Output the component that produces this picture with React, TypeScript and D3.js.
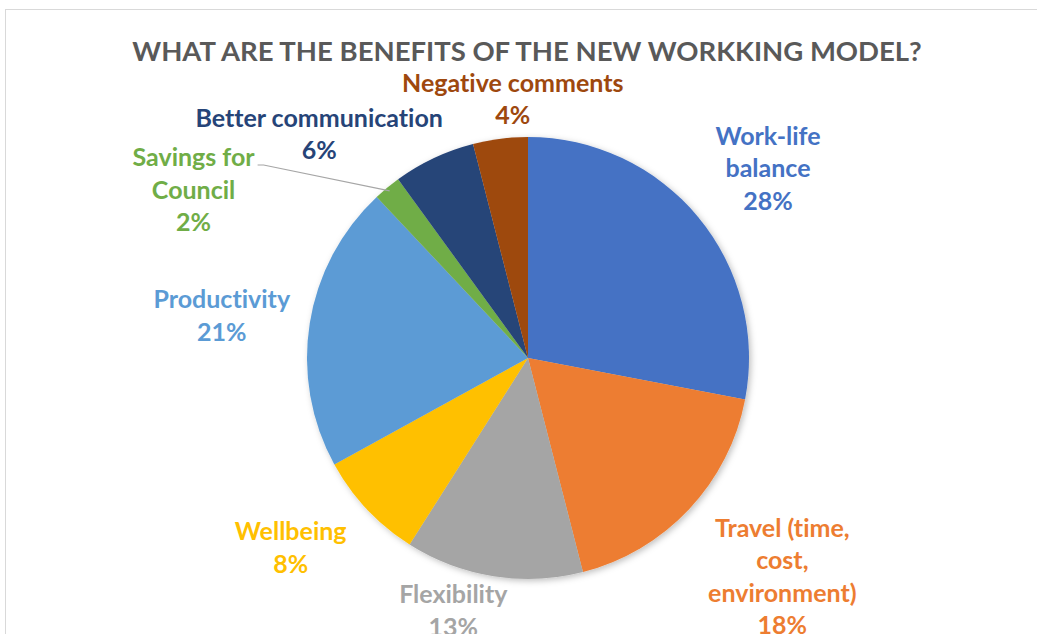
import * as d3 from 'd3'

const categories = [
  'Work-life balance',
  'Travel (time, cost, environment)',
  'Flexibility',
  'Wellbeing',
  'Productivity',
  'Savings for Council',
  'Better communication',
  'Negative comments',
]
const shares = [28, 18, 13, 8, 21, 2, 6, 4]
const labelLines = [
  ['Work-life', 'balance'],
  ['Travel (time,', 'cost,', 'environment)'],
  ['Flexibility'],
  ['Wellbeing'],
  ['Productivity'],
  ['Savings for', 'Council'],
  ['Better communication'],
  ['Negative comments'],
]
const colors = ['#4472C4', '#ED7D31', '#A5A5A5', '#FFC000', '#5B9BD5', '#70AD47', '#264478', '#9E480E']

// label nudges from the outer label ring (layout only)
const nudges: [number, number][] = [
  [5, 5.5], [32, 10.5], [-27, -47.5], [-15, -18.5], [-5, 6], [-140, 67.5], [-79, 53], [23, 44.5],
]

export default function App() {
  const width = 1037
  const height = 634
  const cx = 528
  const cy = 358
  const r = 221
  const lineH = 32.5
  const font = 'Lato, "Open Sans", sans-serif'

  const pie = d3.pie<number>().sort(null).value(d => d)
  const arcs = pie(shares)
  const arc = d3.arc<d3.PieArcDatum<number>>().innerRadius(0).outerRadius(r)
  const labelArc = d3.arc<d3.PieArcDatum<number>>().innerRadius(305).outerRadius(305)
  const edgeArc = d3.arc<d3.PieArcDatum<number>>().innerRadius(r - 4).outerRadius(r - 4)

  return (
    <svg width={width} height={height} style={{ position: 'absolute', left: 0, top: 0, background: '#fff' }}>
      <defs>
        <filter id="sh" x="-20%" y="-20%" width="140%" height="140%">
          <feDropShadow dx="2" dy="2" stdDeviation="3" floodColor="#000" floodOpacity="0.25" />
        </filter>
      </defs>
      <rect x={5.5} y={9.5} width={1100} height={700} fill="#fff" stroke="#d9d9d9" strokeWidth={1} />
      <text x={527} y={61} textAnchor="middle" fontFamily={font} fontWeight={700} fontSize={27.5} fill="#595959">
        WHAT ARE THE BENEFITS OF THE NEW WORKKING MODEL?
      </text>
      <g transform={`translate(${cx},${cy})`}>
        <g filter="url(#sh)">
          {arcs.map((a, i) => (
            <path key={categories[i]} d={arc(a) || ''} fill={colors[i]} />
          ))}
        </g>
        {arcs.map((a, i) => {
          const [lx, ly] = labelArc.centroid(a)
          const x = lx + nudges[i][0]
          const y = ly + nudges[i][1]
          const lines = [...labelLines[i], `${shares[i]}%`]
          const first = y - ((lines.length - 1) * lineH) / 2 + 8
          let leader = null
          if (shares[i] < 3) {
            const [ex, ey] = edgeArc.centroid(a)
            leader = (
              <polyline
                points={`${x + 64},${first - 1} ${x + 70},${first - 1} ${ex},${ey}`}
                fill="none"
                stroke="#a6a6a6"
                strokeWidth={1.2}
              />
            )
          }
          return (
            <g key={categories[i]}>
              {leader}
              <text
                textAnchor="middle"
                fontFamily={font}
                fontWeight={700}
                fontSize={25}
                fill={colors[i]}
                style={{ fontVariantLigatures: 'none' }}
              >
                {lines.map((t, j) => (
                  <tspan key={j} x={x} y={first + j * lineH}>
                    {t}
                  </tspan>
                ))}
              </text>
            </g>
          )
        })}
      </g>
    </svg>
  )
}
